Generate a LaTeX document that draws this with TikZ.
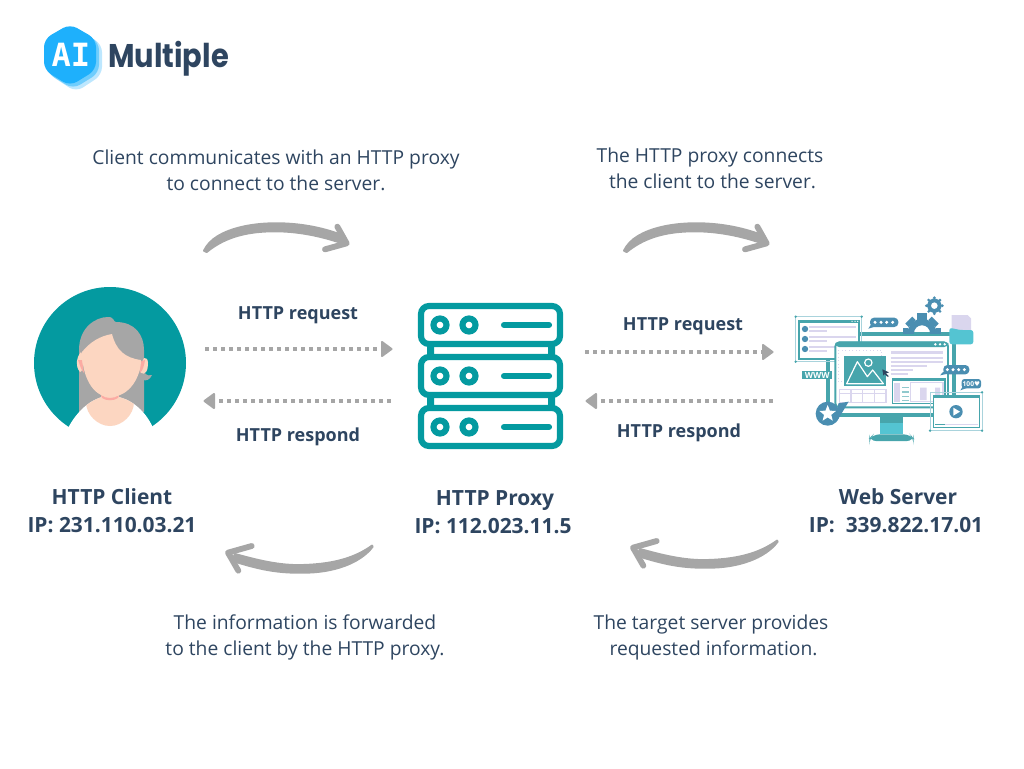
\documentclass[tikz,border=0pt]{standalone}
\usepackage{fontspec}
\setmainfont{Open Sans}
\newfontfamily\logofont[FakeStretch=0.88]{Poppins}
\newfontfamily\logoslab{DejaVu Sans Mono}
\newfontfamily\symfont{DejaVu Sans}
\usetikzlibrary{shapes.geometric}
\definecolor{navy}{HTML}{2E4560}
\definecolor{tealc}{HTML}{049AA0}
\definecolor{grayc}{HTML}{A6A6A6}
\definecolor{skin}{HTML}{FCD6C1}
\definecolor{pinkc}{HTML}{FBABA3}
\definecolor{logoa}{HTML}{1EB0FC}
\definecolor{logob}{HTML}{6FCDFD}
\definecolor{logoc}{HTML}{BDE7FE}
\definecolor{sta}{HTML}{47A5AC}
\definecolor{stb}{HTML}{54C4D2}
\definecolor{stc}{HTML}{4A8EB1}
\definecolor{std}{HTML}{DAD6EE}
\definecolor{ste}{HTML}{A9D3DC}
\tikzset{
  x=0.75pt,y=-0.75pt,
  notetxt/.style={font=\fontsize{14.45pt}{19.5pt}\selectfont,text=navy,align=center,inner sep=0pt},
  labtxt/.style={font=\fontsize{13.5pt}{19.5pt}\selectfont\bfseries,text=navy,align=center,inner sep=0pt},
  capttxt/.style={font=\fontsize{15.7pt}{21pt}\selectfont\bfseries,text=navy,align=center,inner sep=0pt},
  dotline/.style={draw=grayc,line width=3.4pt,dash pattern=on 3.3pt off 2.7pt},
  headr/.style={fill=grayc,draw=grayc,line width=1.5pt,line join=round},
  rack/.style={draw=tealc,line width=4.6pt,rounded corners=6pt},
  led/.style={draw=tealc,line width=4.6pt,fill=white},
  rackbar/.style={draw=tealc,line width=4.6pt,line cap=round},
  arrowstroke/.style={draw=grayc,line width=4.4pt,line cap=round,line join=round},
  tube/.style={draw=sta,line width=3pt},
  lav/.style={draw=std,line width=1.5pt},
  toparrow/.pic={
    \filldraw[grayc,line width=1.5pt,line join=round] (42,122) .. controls (60,85) and (100,65) .. (150,52)
      .. controls (230,32) and (350,35) .. (452,74)
      -- (462,102) .. controls (380,72) and (300,62) .. (240,64)
      .. controls (160,66) and (100,85) .. (50,126) -- cycle;
    \draw[arrowstroke] (442,50) -- (470,100) -- (405,118);
  },
  botarrow/.pic={
    \filldraw[grayc,line width=1.5pt,line join=round] (486,47) .. controls (440,80) and (380,102) .. (280,105)
      .. controls (210,108) and (140,90) .. (75,72)
      -- (65,92) .. controls (130,112) and (190,130) .. (280,128)
      .. controls (370,128) and (450,100) .. (488,50) -- cycle;
    \draw[arrowstroke] (125,48) -- (54,68) -- (85,122);
  },
  rackunit/.pic={
    \draw[rack] (421,306) rectangle (560,344);
    \draw[led] (440,325) circle (6.5);
    \draw[led] (469,325) circle (6.5);
    \draw[rackbar] (504,325) -- (549,325);
  }
}
\begin{document}
\begin{tikzpicture}
\useasboundingbox (0,0) rectangle (1024,768);
% logo
\fill[logoc,rounded corners=6pt] (76,29)--(102,44)--(102,75)--(76,92)--(50,75)--(50,44)--cycle;
\fill[logob,rounded corners=6pt] (73,27)--(99,42)--(99,73)--(73,89)--(47,73)--(47,42)--cycle;
\fill[logoa,rounded corners=6pt] (70,24)--(96,39)--(96,70)--(70,86)--(44,70)--(44,39)--cycle;
\node[font=\logoslab\fontsize{24pt}{24pt}\selectfont\bfseries,text=white,inner sep=0pt] (logoai) at (71,55) {AI};
\node[font=\logofont\fontsize{24.6pt}{24pt}\selectfont\bfseries,text=navy,inner sep=0pt,anchor=base west] (logotext) at (108,67) {Multiple};
% client
\begin{scope}
\clip (0,280) rectangle (300,427);
\fill[tealc] (110,363) circle (76);
\end{scope}
\node[circle,inner sep=0pt,minimum size=114pt] (client) at (110,363) {};
\fill[grayc] (79,412) -- (79,350) .. controls (79,328) and (95,317) .. (108,317)
  .. controls (115,317) and (113,322) .. (116,322) .. controls (135,322) and (144,335) .. (144,350) -- (144,412) -- cycle;
\fill[grayc] (144,372) .. controls (147,376) and (150,376) .. (152,375) .. controls (150,380) and (146,381) .. (143,380) -- cycle;
\fill[skin] (81,352) .. controls (76,358) and (75,366) .. (80,372) .. controls (84,372) and (84,355) .. (81,352) -- cycle;
\fill[skin] (144,358) .. controls (149,356) and (149,368) .. (146,372) .. controls (143,376) and (139,372) .. (139,368) -- cycle;
\fill[pinkc] (78,360) .. controls (80,365) and (81,370) .. (84,373) -- (82,360) -- cycle;
\fill[pinkc] (145,360) .. controls (144,366) and (143,370) .. (140,373) -- (139,362) -- cycle;
\fill[white] (67,430) .. controls (78,408) and (95,396) .. (110,396) .. controls (127,396) and (145,408) .. (154,430) -- cycle;
\begin{scope}
\clip (67,430) .. controls (78,408) and (95,396) .. (110,396) .. controls (127,396) and (145,408) .. (154,430) -- cycle;
\fill[skin] (86,390) -- (134,390) -- (134,402) .. controls (134,415) and (122,426) .. (110,426) .. controls (98,426) and (86,415) .. (86,402) -- cycle;
\end{scope}
\fill[skin] (101,385) rectangle (119,397);
\fill[pinkc] (101,395) .. controls (106,399) and (114,399) .. (119,395) -- (118,398) .. controls (114,401) and (106,401) .. (102,398) -- cycle;
\fill[skin] (82,352) .. controls (90,342) and (100,336) .. (112,334) .. controls (116,350) and (125,358) .. (141,360)
  .. controls (141,376) and (130,397) .. (110,397) .. controls (92,397) and (82,375) .. (82,352) -- cycle;
% proxy
\node[inner sep=0pt,minimum width=109pt,minimum height=110pt] (proxy) at (491,376) {};
\fill[tealc] (427,346) rectangle (434,356) (548,346) rectangle (555,356) (427,397) rectangle (434,407) (548,397) rectangle (555,407);
\pic at (0,0) {rackunit};
\pic at (0,51) {rackunit};
\pic at (0,102) {rackunit};
% web server illustration: coordinates are those of a 3x view
\node[inner sep=0pt,minimum width=142pt,minimum height=118pt] (server) at (890,368) {};
\begin{scope}[shift={(780,285)},x=0.25pt,y=-0.25pt]
 \draw[tube] (237,148) -- (510,148) (145,222) -- (145,365) (523,175) -- (523,335);
 \draw[ste,line width=.7pt] (47,95) rectangle (245,230);
 \fill[sta] (47,95) circle (4) (245,95) circle (4) (47,230) circle (4) (245,230) circle (4);
 \draw[sta,line width=1.1pt,fill=white] (57,107) rectangle (237,222);
 \fill[sta] (57,105) rectangle (237,113);
 \foreach \xx in {216,225,233}{\fill[white] (\xx,109) circle (2);}
 \foreach \yy in {132,162,192}{\fill[stc] (75,\yy) circle (9.5); \draw[lav] (88,\yy-5) -- (228,\yy-5); \draw[lav] (88,\yy+6) -- (140,\yy+6);}
 % gear
 \begin{scope}
  \clip (360,80) rectangle (490,145);
  \draw[stc,line width=4.8pt] (426,145) circle (34);
  \foreach \a in {0,45,90,135,180}{\fill[stc,rotate around={\a:(426,145)}] (468,130) rectangle (482,160);}
  \fill[stc] (410,85) rectangle (441,112);
 \end{scope}
 \draw[stc,line width=2.9pt] (463,62) circle (16.5);
 \foreach \a in {0,45,...,315}{\fill[stc] ([shift={(\a:24)}]463,62) circle (4.5);}
 % bubbles
 \fill[stc,rounded corners=3pt] (270,98) rectangle (355,126);
 \fill[stc] (272,120) -- (265,131) -- (285,125) -- cycle;
 \foreach \xx in {285,303,320,338}{\fill[white] (\xx,112) circle (5);}
 % folder
 \fill[std] (515,90) -- (563,90) -- (573,100) -- (573,140) -- (515,140) -- cycle;
 \fill[stb,rounded corners=2pt] (508,128) -- (540,135) -- (580,135) -- (580,178) -- (508,178) -- cycle;
 % monitor
 \fill[sta] (170,385) rectangle (460,396);
 \fill[sta] (300,390) rectangle (370,415);
 \fill[stb] (300,415) rectangle (370,448);
 \fill[sta,rounded corners=5pt] (268,468) -- (268,460) -- (280,448) -- (390,448) -- (401,460) -- (401,468) -- cycle;
 \draw[sta,line width=1.4pt,fill=white,rounded corners=3pt] (166,172) rectangle (504,367);
 \fill[sta,rounded corners=3pt] (165,170) rectangle (505,186);
 \foreach \xx in {466,480,494}{\fill[white] (\xx,178) circle (4);}
 \draw[std,line width=.6pt,dotted] (175,195) rectangle (305,290);
 \fill[sta] (192,212) rectangle (318,302);
 \draw[white,line width=.9pt,line join=round] (200,296) -- (232,230) -- (262,275) -- (278,255) -- (310,296) -- cycle;
 \draw[white,line width=.9pt] (265,233) circle (11);
 \fill[navy] (307,253) -- (327,262) -- (318,265) -- (327,274) -- (322,275) -- (314,267) -- (310,272) -- cycle;
 \fill[std] (332,198) rectangle (490,208);
 \foreach \yy/\xx in {219/490,231/490,243/440,255/400,267/385}{\draw[lav] (332,\yy) -- (\xx,\yy);}
 \draw[std,line width=.8pt] (178,313) rectangle (318,353) (213,313) -- (213,353) (248,313) -- (248,353) (283,313) -- (283,353);
 \draw[std,line width=.8pt] (178,326) -- (318,326);
 \draw[sta,line width=1pt,fill=white] (338,282) rectangle (495,355);
 \fill[sta] (337,279) rectangle (495,288);
 \fill[std] (343,293) rectangle (360,350);
 \foreach \yy in {307,321,335,347}{\draw[sta!60,line width=1.1pt] (367,\yy) -- (386,\yy);}
 \draw[std,line width=1pt] (392,293) rectangle (489,350);
 \fill[std] (420,308) rectangle (440,345) (465,308) rectangle (480,345);
 \fill[stc,rounded corners=3pt] (490,240) rectangle (568,268);
 \fill[stc] (490,260) -- (480,271) -- (505,266) -- cycle;
 \foreach \xx in {502,519,536,553}{\fill[white] (\xx,254) circle (5);}
 \fill[stc,rounded corners=2pt] (545,282) rectangle (603,310);
 \fill[stc] (548,305) -- (541,316) -- (560,309) -- cycle;
 \node[font=\fontsize{5pt}{5pt}\selectfont\bfseries,text=white,inner sep=0pt] (hundred) at (574,296) {100{\symfont ♥}};
 \fill[sta] (67,258) rectangle (157,282);
 \node[font=\fontsize{6.4pt}{6pt}\selectfont\bfseries,text=white,inner sep=0pt] (www) at (112,270) {WWW};
 % video window
 \draw[ste,line width=.7pt] (450,322) rectangle (607,437);
 \fill[sta] (606,322) circle (4) (450,437) circle (4) (606,437) circle (4);
 \draw[sta,line width=1.1pt,fill=white] (460,333) rectangle (598,428);
 \fill[sta] (460,331) rectangle (598,340);
 \fill[stc] (528,380) circle (20);
 \fill[white] (520,368) -- (540,380) -- (520,392) -- cycle;
 \fill[std] (465,416) rectangle (595,421);
 \fill[sta] (465,416) rectangle (495,419);
 % star badge
 \fill[stc] (175,355) -- (206,350) -- (170,410) -- cycle;
 \fill[stc] (143,386) circle (36);
 \node[star,star points=5,star point ratio=2.3,fill=white,inner sep=0pt,minimum size=13pt] (starmark) at (143,386) {};
\end{scope}
% curved arrows
\pic at (190,210) [scale=1/3] {toparrow};
\pic at (610,210) [scale=1/3] {toparrow};
\pic at (210,530) [scale=1/3] {botarrow};
\pic at (615,525) [scale=1/3] {botarrow};
% dotted connectors
\coordinate (a1s) at (205,349); \coordinate (a1e) at (381,349);
\coordinate (a2s) at (391,401); \coordinate (a2e) at (214,401);
\coordinate (a3s) at (585,352); \coordinate (a3e) at (762,352);
\coordinate (a4s) at (773,401); \coordinate (a4e) at (596,401);
\draw[dotline] (a1s) -- (a1e);
\draw[dotline] (a2s) -- (a2e);
\draw[dotline] (a3s) -- (a3e);
\draw[dotline] (a4s) -- (a4e);
\fill[headr] (a1e) ++(1,-7) -- ++(9.5,7) -- ++(-9.5,7) -- cycle;
\fill[headr] (a3e) ++(1,-7) -- ++(9.5,7) -- ++(-9.5,7) -- cycle;
\fill[headr] (a2e) ++(0,-7) -- ++(-9.5,7) -- ++(9.5,7) -- cycle;
\fill[headr] (a4e) ++(0,-7) -- ++(-9.5,7) -- ++(9.5,7) -- cycle;
% labels
\node[notetxt] (n1) at (276,170) {Client communicates with an HTTP proxy\\to connect to the server.};
\node[notetxt] (n2) at (710,168) {The HTTP proxy connects\\\ the client to the server.};
\node[notetxt] (n3) at (305,637) {The information is forwarded\\to the client by the HTTP proxy.};
\node[notetxt] (n4) at (711,637) {The target server provides\\\ requested information.};
\node[labtxt] (l1) at (298,315) {HTTP request};
\node[labtxt] (l2) at (298,437) {HTTP respond};
\node[labtxt] (l3) at (683,326) {HTTP request};
\node[labtxt] (l4) at (679,433) {HTTP respond};
\node[capttxt] (t1) at (112,511) {HTTP Client\\IP: 231.110.03.21};
\node[capttxt] (t2) at (493,512) {\hspace*{3pt}HTTP Proxy\\IP: 112.023.11.5};
\node[capttxt] (t3) at (896,511) {\hspace*{3pt}Web Server\\IP:\ \ 339.822.17.01};
\end{tikzpicture}
\end{document}
